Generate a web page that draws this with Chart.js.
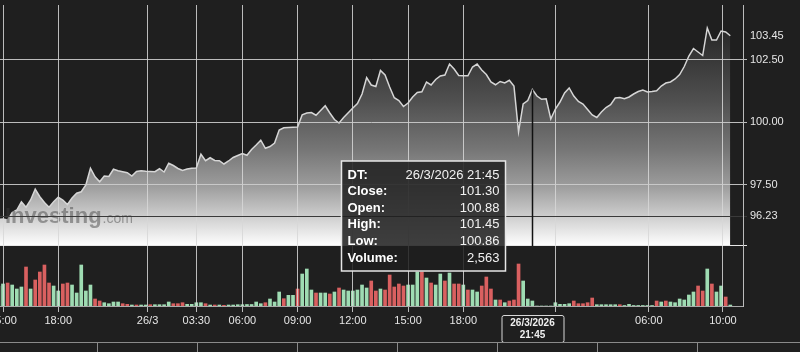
<!DOCTYPE html>
<html lang="en">
<head>
<meta charset="UTF-8" />
<title>15m price chart</title>
<script src="https://cdn.jsdelivr.net/npm/chart.js@4.4.1/dist/chart.umd.min.js"></script>
<style>
  html, body { margin: 0; padding: 0; background: #1f1f1f; overflow: hidden; }
  /* canvas is a bit wider than the window so the first time label gets cut like on the site */
  #wrap { position: absolute; left: -40px; top: 0; width: 840px; height: 352px; }
</style>
</head>
<body>
<div id="wrap"><canvas id="chart"></canvas></div>
<script>
// 15 minute bars, bar index -1 .. 158 (gaps in trading are skipped)
const firstIndex = -1;
const closes = [
  96.10, 96.12, 96.08, 96.38, 96.48, 96.81, 96.59, 96.88, 97.31, 97.01,
  96.78, 96.59, 96.81, 96.99, 96.88, 96.70, 96.96, 97.15, 97.21, 97.48,
  98.15, 97.81, 97.61, 97.84, 97.82, 98.11, 98.05, 98.01, 97.97, 97.84,
  98.02, 98.05, 98.03, 98.02, 98.01, 98.13, 98.00, 98.35, 98.26, 98.14,
  98.06, 98.12, 98.15, 98.16, 98.71, 98.45, 98.57, 98.46, 98.45, 98.32,
  98.44, 98.58, 98.66, 98.74, 98.67, 98.90, 99.08, 99.27, 98.95, 99.02,
  99.16, 99.68, 99.77, 99.78, 99.79, 99.80, 100.29, 100.36, 100.38, 100.27,
  100.46, 100.65, 100.36, 100.10, 99.96, 100.18, 100.37, 100.56, 100.74, 101.12,
  101.78, 101.48, 101.42, 102.06, 101.88, 101.40, 100.97, 100.86, 100.62, 100.76,
  101.00, 101.18, 101.21, 101.60, 101.48, 101.70, 101.84, 101.88, 102.32, 102.12,
  101.86, 101.85, 101.85, 102.20, 102.32, 102.08, 101.90, 101.60, 101.49, 101.62,
  101.56, 101.67, 101.44, 99.61, 100.72, 100.86, 101.30, 101.04, 100.91, 100.93,
  100.12, 100.52, 100.80, 101.16, 101.36, 101.04, 100.82, 100.72, 100.50, 100.28,
  100.18, 100.40, 100.58, 100.69, 100.96, 100.98, 100.93, 101.00, 101.12, 101.22,
  101.28, 101.20, 101.22, 101.25, 101.44, 101.56, 101.60, 101.72, 101.90, 102.22,
  102.64, 102.94, 102.80, 102.66, 103.76, 103.28, 103.28, 103.64, 103.60, 103.45
];
const volumes = [
  10250, 11280, 11790, 10760, 8710, 9740, 19990, 8710, 13330, 17430,
  21020, 11790, 10250, 7690, 11280, 11790, 10760, 6660, 21020, 7690,
  10760, 3590, 2560, 1690, 1180, 2050, 2050, 1180, 870, 510,
  510, 510, 510, 670, 670, 670, 670, 2050, 1180, 1180,
  1690, 870, 870, 1690, 1690, 1180, 510, 510, 510, 360,
  510, 510, 670, 670, 770, 770, 2050, 1180, 1690, 3590,
  2050, 7180, 3740, 5480, 5480, 8710, 16400, 18970, 8200, 6660,
  6660, 6660, 6150, 7180, 9230, 8200, 7690, 7690, 8200, 10760,
  9230, 12820, 7690, 8710, 8200, 15890, 9740, 11280, 10250, 10760,
  10760, 17430, 17430, 14350, 11790, 10760, 16400, 12820, 16920, 11280,
  11280, 10760, 8200, 8200, 7180, 10250, 14870, 8710, 3080, 3080,
  1690, 2560, 3080, 21530, 12820, 3590, 2563, 0, 0, 0,
  0, 1690, 870, 870, 1180, 2560, 1180, 1180, 1690, 4100,
  670, 670, 670, 670, 670, 670, 260, 870, 260, 260,
  260, 260, 260, 2560, 2050, 2560, 2050, 1690, 3590, 3080,
  5640, 7180, 10250, 7690, 18970, 11280, 7180, 10250, 4610, 510
];
// 1 = up bar (green), 0 = down bar (red)
const volUp = [
  1, 1, 0, 1, 1, 1, 0, 1, 0, 0,
  0, 0, 1, 1, 0, 0, 1, 1, 1, 1,
  1, 0, 0, 1, 1, 1, 1, 0, 0, 1,
  0, 1, 1, 0, 1, 1, 1, 1, 0, 0,
  0, 1, 1, 1, 1, 0, 1, 0, 1, 0,
  1, 1, 1, 1, 1, 1, 1, 1, 0, 1,
  1, 1, 0, 1, 1, 0, 1, 1, 1, 0,
  1, 1, 0, 1, 0, 1, 1, 1, 1, 1,
  1, 0, 0, 1, 0, 0, 0, 0, 0, 1,
  1, 1, 0, 1, 0, 1, 1, 0, 1, 0,
  0, 1, 0, 1, 1, 0, 0, 0, 1, 0,
  1, 0, 0, 0, 1, 1, 1, 1, 1, 1,
  1, 1, 1, 1, 1, 0, 0, 0, 0, 0,
  1, 1, 1, 1, 1, 0, 1, 1, 1, 1,
  1, 1, 1, 0, 1, 0, 1, 1, 1, 1,
  1, 1, 0, 0, 1, 0, 1, 1, 0, 1
];

const xTickPos = [0, 12, 31.4, 42, 52, 64, 76, 88, 100, 120, 140.3, 156.4];
const xTickLabels = ['15:00', '18:00', '26/3', '03:30', '06:00', '09:00', '12:00', '15:00', '18:00', '', '06:00', '10:00'];

const fillFloor = 95.04;   // bottom of the price panel
const refLine = 96.23;
const lastClose = 103.45;
const yTickValues = [fillFloor, refLine, 97.5, 100, 102.5, lastClose];
const yTickLabels = ['', '96.23', '97.50', '100.00', '102.50', '103.45'];

// hovered bar
const hoverIndex = 115;
const hoverDate = '26/3/2026';
const hoverTime = '21:45';
const hoverOpen = 100.88;
const hoverHigh = 101.45;
const hoverLow = 100.86;

const barIndex = closes.map((c, k) => k + firstIndex);
const FONT = 'Arial, "Liberation Sans", sans-serif';

function areaGradient(context) {
    const chart = context.chart;
    const { chartArea, scales } = chart;
    if (!chartArea) return null;
    const bottom = scales.y.getPixelForValue(fillFloor);
    const g = chart.ctx.createLinearGradient(0, chartArea.top, 0, bottom);
    g.addColorStop(0, '#232323');
    g.addColorStop(0.15, '#2e2e2e');
    g.addColorStop(0.4, '#505050');
    g.addColorStop(0.6, '#767676');
    g.addColorStop(0.75, '#9c9c9c');
    g.addColorStop(0.88, '#cfcfcf');
    g.addColorStop(1, '#ffffff');
    return g;
}

function yGridColor(v) {
    if (v === fillFloor) return '#e8e8e8';
    if (v === refLine) return '#3a3a3a';
    if (v === lastClose) return 'rgba(0,0,0,0)';
    return 'rgba(205,205,205,0.9)';
}

const overlay = {
    id: 'overlay',
    afterDatasetsDraw(chart) {
        // watermark
        const { ctx, chartArea, scales } = chart;
        const base = scales.y.getPixelForValue(refLine) + 7;
        ctx.save();
        ctx.fillStyle = 'rgba(60,60,60,0.45)';
        ctx.textBaseline = 'alphabetic';
        ctx.font = 'bold 22px ' + FONT;
        ctx.fillText('Investing', chartArea.left + 5, base);
        const w = ctx.measureText('Investing').width;
        ctx.font = '14px ' + FONT;
        ctx.fillText('.com', chartArea.left + 6 + w, base);
        ctx.restore();
    },
    afterDraw(chart) {
        const { ctx, chartArea, scales: { x, y } } = chart;
        const k = hoverIndex - firstIndex;
        const px = Math.round(x.getPixelForValue(hoverIndex)) + 0.5;
        const py = y.getPixelForValue(closes[k]);
        const pb = y.getPixelForValue(fillFloor);
        ctx.save();

        // crosshair
        ctx.strokeStyle = '#111';
        ctx.lineWidth = 1.5;
        ctx.beginPath();
        ctx.moveTo(px, py);
        ctx.lineTo(px, pb);
        ctx.stroke();

        // date box on the time axis
        const bx = px - 31, by = chartArea.bottom + 9;
        ctx.fillStyle = '#1f1f1f';
        ctx.strokeStyle = '#d8d8d8';
        ctx.lineWidth = 1;
        ctx.beginPath();
        ctx.roundRect(bx + 0.5, by + 0.5, 62, 27, 2);
        ctx.fill();
        ctx.stroke();
        ctx.fillStyle = '#f0f0f0';
        ctx.font = 'bold 10px ' + FONT;
        ctx.textAlign = 'center';
        ctx.textBaseline = 'middle';
        ctx.fillText(hoverDate, px, by + 8);
        ctx.fillText(hoverTime, px, by + 20);

        // tooltip box
        const tw = 164, th = 110;
        const tx = px - 27 - tw, ty = chartArea.top + 156;
        ctx.fillStyle = 'rgba(30,30,30,0.86)';
        ctx.fillRect(tx, ty, tw, th);
        ctx.strokeStyle = '#e6e6e6';
        ctx.lineWidth = 1.5;
        ctx.strokeRect(tx, ty, tw, th);
        const rows = [
            ['DT:', hoverDate + ' ' + hoverTime],
            ['Close:', closes[k].toFixed(2)],
            ['Open:', hoverOpen.toFixed(2)],
            ['High:', hoverHigh.toFixed(2)],
            ['Low:', hoverLow.toFixed(2)],
            ['Volume:', volumes[k].toLocaleString('en-US')]
        ];
        rows.forEach((r, i) => {
            const ry = ty + 14 + i * 16.6;
            ctx.fillStyle = '#ffffff';
            ctx.font = 'bold 13px ' + FONT;
            ctx.textAlign = 'left';
            ctx.fillText(r[0], tx + 6, ry);
            ctx.fillStyle = '#f2f2f2';
            ctx.font = '13px ' + FONT;
            ctx.textAlign = 'right';
            ctx.fillText(r[1], tx + tw - 6, ry);
        });

        // navigator strip along the bottom
        const ny = chartArea.bottom + 36.5;
        ctx.strokeStyle = '#8a8a8a';
        ctx.lineWidth = 1;
        ctx.beginPath();
        ctx.moveTo(0, ny);
        ctx.lineTo(chart.width, ny);
        for (let s = 97; s < 780; s += 100) {
            const sx = chartArea.left + s + 0.5;
            ctx.moveTo(sx, ny);
            ctx.lineTo(sx, chart.height);
        }
        ctx.stroke();
        ctx.restore();
    }
};

const ctx = document.getElementById('chart').getContext('2d');
const myChart = new Chart(ctx, {
    type: 'line',
    data: {
        datasets: [
            {
                type: 'line',
                label: 'Close',
                data: closes.map((c, k) => ({ x: barIndex[k], y: c })),
                yAxisID: 'y',
                borderColor: '#d6d6d6',
                borderWidth: 1.5,
                pointRadius: 0,
                tension: 0,
                fill: { value: fillFloor },
                backgroundColor: areaGradient,
                order: 1
            },
            {
                type: 'bar',
                label: 'Volume',
                data: volumes.map((v, k) => ({ x: barIndex[k], y: v })),
                yAxisID: 'yv',
                backgroundColor: volUp.map(u => u ? '#9fdcb3' : '#d96060'),
                barThickness: 3,
                order: 2
            }
        ]
    },
    options: {
        responsive: true,
        maintainAspectRatio: false,
        animation: false,
        layout: { padding: { left: 40, top: 5, right: 0, bottom: 0 } },
        plugins: { legend: { display: false }, tooltip: { enabled: false } },
        scales: {
            x: {
                type: 'linear',
                offset: false,
                min: -0.652,
                max: 160.76,
                afterBuildTicks: s => { s.ticks = xTickPos.map(v => ({ value: v })); },
                afterFit: s => { s.height = 46; },
                ticks: {
                    autoSkip: false,
                    maxRotation: 0,
                    color: '#e6e6e6',
                    font: { family: FONT, size: 11 },
                    padding: 2,
                    callback: (v, i) => xTickLabels[i]
                },
                grid: { offset: false, color: 'rgba(215,215,215,0.85)', lineWidth: 1, tickLength: 6, z: 1 },
                border: { color: '#aaaaaa', z: 1 }
            },
            y: {
                position: 'right',
                min: 92.64,
                max: 104.68,
                afterBuildTicks: s => { s.ticks = yTickValues.map(v => ({ value: v })); },
                afterFit: s => { s.width = 57; s.paddingTop = 0; s.paddingBottom = 0; },
                ticks: {
                    color: '#e6e6e6',
                    font: { family: FONT, size: 11 },
                    padding: 3,
                    callback: (v, i) => yTickLabels[i]
                },
                grid: { color: c => yGridColor(c.tick.value), lineWidth: 1, tickLength: 4, z: 1 },
                border: { color: '#bbbbbb', z: 1 }
            },
            yv: { display: false, min: 0, max: 154300 }
        }
    },
    plugins: [overlay]
});
</script>
</body>
</html>
